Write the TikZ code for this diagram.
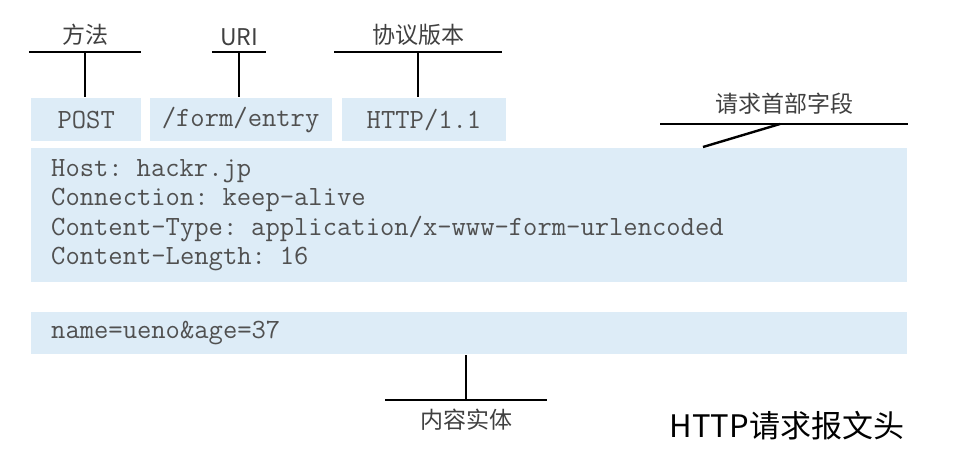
\documentclass[tikz,border=0pt]{standalone}
\usepackage{fontspec}
\newfontfamily\cjk{Noto Sans CJK SC}
\usetikzlibrary{positioning}
\definecolor{boxblue}{RGB}{221,236,247}
\definecolor{txtgray}{RGB}{80,80,80}

\begin{document}
\begin{tikzpicture}[x=1pt, y=-1pt, line width=2.4pt, node distance=6pt]
\tikzstyle{field} = [fill=boxblue, text=txtgray, font=\ttfamily\fontsize{27.8}{29.5}\selectfont, minimum height=43pt, inner sep=0pt, anchor=north west]
\tikzstyle{tag} = [text=black!75, font=\cjk\fontsize{23}{23}\selectfont, inner xsep=0pt, inner ysep=5pt]
\tikzstyle{bar} = [draw=black, line width=2.4pt]

\useasboundingbox (0,0) rectangle (956,462);

\node[field, minimum width=110pt] (post) at (30,97) {POST};
\node[field, minimum width=182pt, right=6pt of post] (uri) {/form/entry};
\node[field, minimum width=164pt, right=8pt of uri] (ver) {HTTP/1.1};

\node[field, text width=836pt, inner xsep=20pt, minimum height=134pt, align=left] (hdr) at (30,147)
  {Host: hackr.jp\\Connection: keep-alive\\Content-Type: application/x-www-form-urlencoded\\Content-Length: 16};
\node[field, text width=836pt, inner xsep=20pt, minimum height=42pt, align=left] (body) at (30,311) {name=ueno\&age=37};

\node[tag, anchor=south, minimum width=110pt] (methodLbl) at (85,52) {方法};
\node[tag, anchor=south, minimum width=52pt] (uriLbl) at (239,52) {URI};
\node[tag, anchor=south, minimum width=165pt] (verLbl) at (418,52) {协议版本};
\node[tag, anchor=south, minimum width=245pt, inner ysep=8pt] (hdrLbl) at (784,124) {请求首部字段};
\node[tag, anchor=north, minimum width=159pt, inner ysep=8pt] (bodyLbl) at (466,400) {内容实体};
\coordinate (hdrPin) at ([xshift=673pt]hdr.north west);

\draw[bar] (methodLbl.south west) -- (methodLbl.south east);
\draw[bar] (methodLbl.south) -- (methodLbl.south |- post.north);
\draw[bar] (uriLbl.south west) -- (uriLbl.south east);
\draw[bar] (uriLbl.south) -- (uriLbl.south |- uri.north);
\draw[bar] (verLbl.south west) -- (verLbl.south east);
\draw[bar] (verLbl.south) -- (verLbl.south |- ver.north);
\draw[bar] (hdrLbl.south west) -- (hdrLbl.south east);
\draw[bar] ([xshift=-4pt]hdrLbl.south) -- (hdrPin);
\draw[bar] (bodyLbl.north west) -- (bodyLbl.north east);
\draw[bar] (bodyLbl.north) -- (bodyLbl.north |- body.south);

\node[font=\cjk\fontsize{31}{31}\selectfont, anchor=base] (title) at (787,437) {HTTP请求报文头};
\end{tikzpicture}
\end{document}
